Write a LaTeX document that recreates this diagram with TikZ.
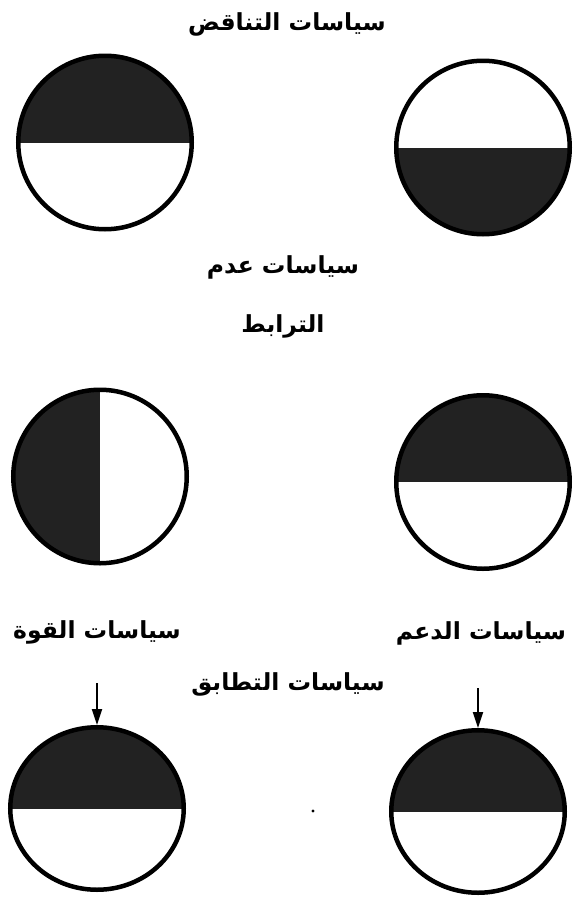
\documentclass[tikz,border=0pt]{standalone}
\usepackage{fontspec}
\usetikzlibrary{arrows.meta,shapes.geometric}
\TeXXeTstate=1
\newfontfamily\arabicfont[Script=Arabic]{DejaVu Sans}
\definecolor{ink}{HTML}{222222}
\tikzset{
  disc/.style={circle,draw=black,line width=4.5pt,minimum size=173.5pt,inner sep=0pt,fill=white},
  oval/.style={ellipse,draw=black,line width=4.5pt,minimum width=173.5pt,minimum height=162.5pt,inner sep=0pt,fill=white},
  topdark/.style={path picture={\fill[ink] (path picture bounding box.north west) rectangle (path picture bounding box.east);}},
  botdark/.style={path picture={\fill[ink] (path picture bounding box.west) rectangle (path picture bounding box.south east);}},
  leftdark/.style={path picture={\fill[ink] (path picture bounding box.north west) rectangle (path picture bounding box.south);}},
  lbl/.style={font=\arabicfont\bfseries\fontsize{23.5pt}{27pt}\selectfont,inner sep=0pt},
  pointer/.style={line width=2pt,-{Triangle[length=16pt,width=10pt]}}
}
\begin{document}
\begin{tikzpicture}[x=1pt,y=-1pt]
\useasboundingbox[fill=white] (0,0) rectangle (573,911);
% labels
\node[lbl] (t1) at (287,24) {\beginR سياسات التناقض\endR};
\node[lbl] (t2) at (283,267) {\beginR سياسات عدم\endR};
\node[lbl] (t3) at (283,326) {\beginR الترابط\endR};
\node[lbl] (t4) at (97,632) {\beginR سياسات القوة\endR};
\node[lbl] (t5) at (481,633) {\beginR سياسات الدعم\endR};
\node[lbl] (t6) at (288,684) {\beginR سياسات التطابق\endR};
% discs
\node[disc,topdark] (c1) at (105,142.5) {};
\node[disc,botdark] (c2) at (483,147.5) {};
\node[disc,leftdark] (c3) at (100,476.5) {};
\node[disc,topdark] (c4) at (483,482) {};
\node[oval,topdark] (c5) at (97,808.5) {};
\node[oval,topdark] (c6) at (478,811.5) {};
% arrows
\coordinate (a1) at (97,683);
\coordinate (a2) at (478,688);
\draw[pointer] (a1) -- (c5.north);
\draw[pointer] (a2) -- (c6.north);
% speck
\fill (313,811) circle (1.6);
\end{tikzpicture}
\end{document}
